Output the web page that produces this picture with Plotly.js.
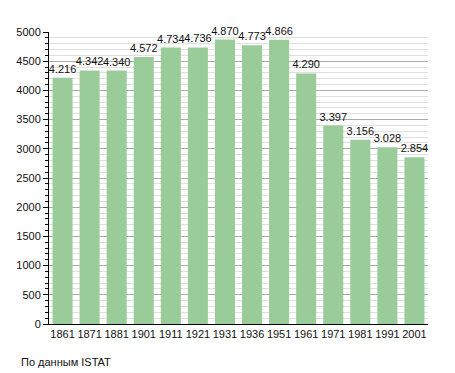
<!DOCTYPE html>
<html><head><meta charset="utf-8">
<script src="https://cdn.plot.ly/plotly-3.0.1.min.js"></script>
<style>html,body{margin:0;padding:0;background:#fff}</style>
</head><body>
<div id="chart" style="width:455px;height:373px"></div>
<script>
const years = ["1861","1871","1881","1901","1911","1921","1931","1936","1951","1961","1971","1981","1991","2001"];
const population = [4216,4342,4340,4572,4734,4736,4870,4773,4866,4290,3397,3156,3028,2854];
const labels = ["4.216","4.342","4.340","4.572","4.734","4.736","4.870","4.773","4.866","4.290","3.397","3.156","3.028","2.854"];
const yTicks = [0,500,1000,1500,2000,2500,3000,3500,4000,4500,5000];

Plotly.newPlot('chart', [{
  type: 'bar',
  x: years,
  y: population,
  text: labels,
  textposition: 'outside',
  constraintext: 'none',
  cliponaxis: false,
  textfont: {family: 'Liberation Sans, Arial, sans-serif', size: 11, color: '#111'},
  marker: {color: '#99cc99', line: {width: 0}},
  hoverinfo: 'none'
}], {
  width: 455, height: 373,
  margin: {l: 49, r: 27, t: 32, b: 49},
  paper_bgcolor: '#fff', plot_bgcolor: '#fff',
  bargap: 0.26,
  showlegend: false,
  font: {family: 'Liberation Sans, Arial, sans-serif', size: 11, color: '#111'},
  xaxis: {
    type: 'category',
    showline: true, linecolor: '#000', linewidth: 1,
    ticks: '', showgrid: false,
    tickfont: {size: 11}
  },
  yaxis: {
    range: [0, 5000],
    tickvals: yTicks,
    ticktext: yTicks.map(String),
    showline: true, linecolor: '#000', linewidth: 1,
    ticks: 'outside', ticklen: 5, tickcolor: '#000',
    showgrid: true, gridcolor: '#aaaaaa', gridwidth: 1,
    zeroline: false,
    minor: {dtick: 100, ticks: 'outside', ticklen: 3, tickcolor: '#000', showgrid: true, gridcolor: '#e0e0e0', gridwidth: 1},
    tickfont: {size: 11}
  },
  annotations: [{
    text: 'По данным ISTAT', xref: 'paper', yref: 'paper',
    x: -0.078, y: -0.13, xanchor: 'left', yanchor: 'middle', showarrow: false,
    font: {size: 11, color: '#111'}
  }]
}, {staticPlot: true});
</script>
</body></html>
